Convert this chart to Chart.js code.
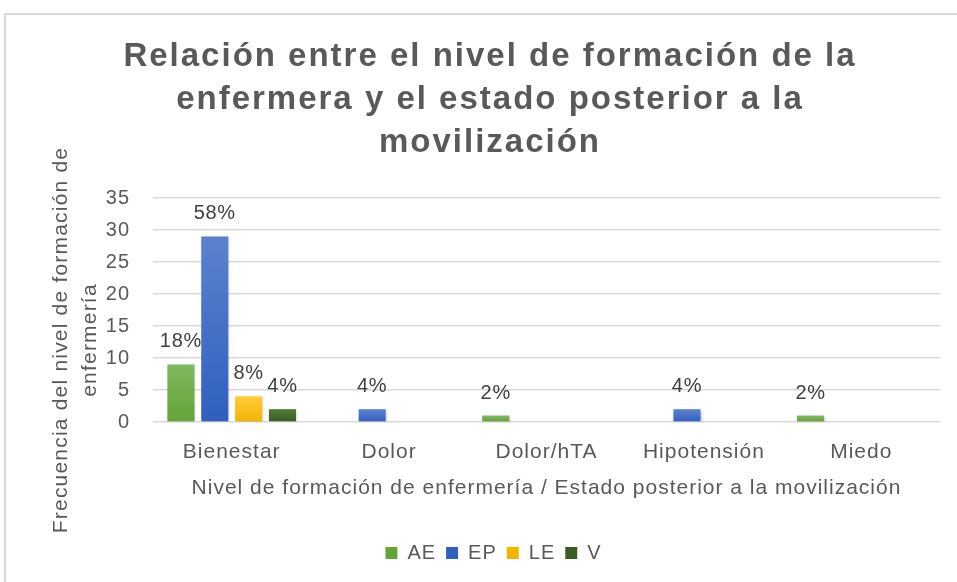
<!DOCTYPE html>
<html>
<head>
<meta charset="utf-8">
<script src="https://cdn.jsdelivr.net/npm/chart.js@4.4.1/dist/chart.umd.min.js"></script>
<style>
  html, body { margin: 0; padding: 0; background: #fff; width: 957px; height: 582px; overflow: hidden; }
  #frame { position: absolute; left: 4px; top: 13px; width: 980px; height: 600px;
           border-top: 2px solid #d9d9d9; border-left: 2px solid #d9d9d9; }
  #c { position: absolute; left: 0; top: 0; }
</style>
</head>
<body>
<div id="frame"></div>
<canvas id="c" width="957" height="582"></canvas>
<script>
// Post-mobilisation state per nurse training level (counts)
const categories = ['Bienestar', 'Dolor', 'Dolor/hTA', 'Hipotensión', 'Miedo'];
const seriesNames = ['AE', 'EP', 'LE', 'V'];
const valuesAE = [9, null, 1, null, 1];
const valuesEP = [29, 2, null, 2, null];
const valuesLE = [4, null, null, null, null];
const valuesV  = [2, null, null, null, null];
const yMin = 0, yMax = 35, yStep = 5;

const chartTitle = ['Relación entre el nivel de formación de la',
                    'enfermera y el estado posterior a la',
                    'movilización'];
const xTitle = 'Nivel de formación de enfermería / Estado posterior a la movilización';
const yTitle = ['Frecuencia del nivel de formación de', 'enfermería'];

const allValues = [valuesAE, valuesEP, valuesLE, valuesV];
const total = allValues.flat().reduce((s, v) => s + (v || 0), 0);

const FONT = '"Liberation Sans", Arial, sans-serif';
const TEXT = '#595959';

// base colour, gradient top, gradient bottom
const palette = [
  ['#70ad47', '#7fb95e', '#64a436'],
  ['#4472c4', '#5c82cd', '#2f5fbf'],
  ['#ffc000', '#ffcb3a', '#f3b500'],
  ['#43682b', '#537a38', '#3a5e22']
];

function barFill(idx) {
  return (ctx) => {
    const [base, top, bottom] = palette[idx];
    if (!ctx.parsed || ctx.parsed.y == null || !ctx.chart.chartArea) return base;
    const y = ctx.chart.scales.y;
    const y0 = y.getPixelForValue(ctx.parsed.y);
    const y1 = y.getPixelForValue(0);
    if (!(y1 > y0 + 1)) return bottom;
    const g = ctx.chart.ctx.createLinearGradient(0, y0, 0, y1);
    g.addColorStop(0, top);
    g.addColorStop(1, bottom);
    return g;
  };
}

// letter spacing for the chart's text, wider for the title
const textSpacing = {
  id: 'textSpacing',
  beforeDraw(chart) {
    chart.ctx.letterSpacing = '1px';
    const tb = chart.titleBlock;
    if (tb && !tb._spaced) {
      const orig = tb.draw.bind(tb);
      tb.draw = function (area) {
        const c = this.ctx;
        c.save();
        c.letterSpacing = '2px';
        orig(area);
        c.restore();
      };
      tb._spaced = true;
    }
  }
};

// soft shadow behind the bars
const barShadow = {
  id: 'barShadow',
  beforeDatasetDraw(chart) {
    const c = chart.ctx;
    c.save();
    c.shadowColor = 'rgba(0,0,0,0.22)';
    c.shadowBlur = 3;
    c.shadowOffsetX = 1;
    c.shadowOffsetY = 1;
  },
  afterDatasetDraw(chart) {
    chart.ctx.restore();
  }
};

// percentage of the total above every bar
const pctLabels = {
  id: 'pctLabels',
  afterDatasetsDraw(chart) {
    const c = chart.ctx;
    c.save();
    c.font = '20px ' + FONT;
    c.fillStyle = '#404040';
    c.textAlign = 'center';
    c.textBaseline = 'alphabetic';
    c.letterSpacing = '0.7px';
    chart.data.datasets.forEach((ds, i) => {
      const meta = chart.getDatasetMeta(i);
      meta.data.forEach((bar, j) => {
        const v = ds.data[j];
        if (v == null) return;
        c.fillText(Math.round(v / total * 100) + '%', bar.x, bar.y - 17);
      });
    });
    c.restore();
  }
};

// two-line vertical axis title
const yAxisTitle = {
  id: 'yAxisTitle',
  afterDraw(chart) {
    const c = chart.ctx;
    c.save();
    c.font = '21px ' + FONT;
    c.fillStyle = TEXT;
    c.letterSpacing = '1.2px';
    c.textAlign = 'center';
    c.textBaseline = 'middle';
    yTitle.forEach((line, k) => {
      c.save();
      c.translate(61 + k * 29, 340);
      c.rotate(-Math.PI / 2);
      c.fillText(line, 0, 0);
      c.restore();
    });
    c.restore();
  }
};

new Chart(document.getElementById('c'), {
  type: 'bar',
  data: {
    labels: categories,
    datasets: allValues.map((vals, i) => ({
      label: seriesNames[i],
      data: vals,
      backgroundColor: barFill(i),
      borderWidth: 0,
      categoryPercentage: 0.86,
      barPercentage: 0.8
    }))
  },
  options: {
    responsive: false,
    animation: false,
    devicePixelRatio: 1,
    layout: { padding: { left: 40, right: 17, top: 0, bottom: 9 } },
    plugins: {
      title: {
        display: true,
        text: chartTitle,
        color: TEXT,
        font: { family: FONT, size: 33, weight: 'bold', lineHeight: 43 / 33 },
        padding: { top: 35.5, bottom: 33.5 }
      },
      legend: {
        position: 'bottom',
        labels: {
          color: TEXT,
          font: { family: FONT, size: 20 },
          boxWidth: 12,
          boxHeight: 12,
          padding: 10
        }
      },
      tooltip: { enabled: false }
    },
    scales: {
      x: {
        grid: { display: false, drawTicks: false },
        border: { display: false },
        ticks: { color: TEXT, font: { family: FONT, size: 21 }, padding: 18, autoSkip: false, maxRotation: 0 },
        title: {
          display: true,
          text: xTitle,
          color: TEXT,
          font: { family: FONT, size: 21, lineHeight: 1.2 },
          padding: { top: 0, bottom: 32 }
        },
        afterFit(scale) { scale.height = 111; }
      },
      y: {
        min: yMin,
        max: yMax,
        ticks: { stepSize: yStep, color: TEXT, font: { family: FONT, size: 20 }, padding: 23 },
        grid: { color: '#d9d9d9', lineWidth: 1.5, drawTicks: false },
        border: { display: false },
        afterFit(scale) { scale.width = 113; }
      }
    }
  },
  plugins: [textSpacing, barShadow, pctLabels, yAxisTitle]
});
</script>
</body>
</html>
